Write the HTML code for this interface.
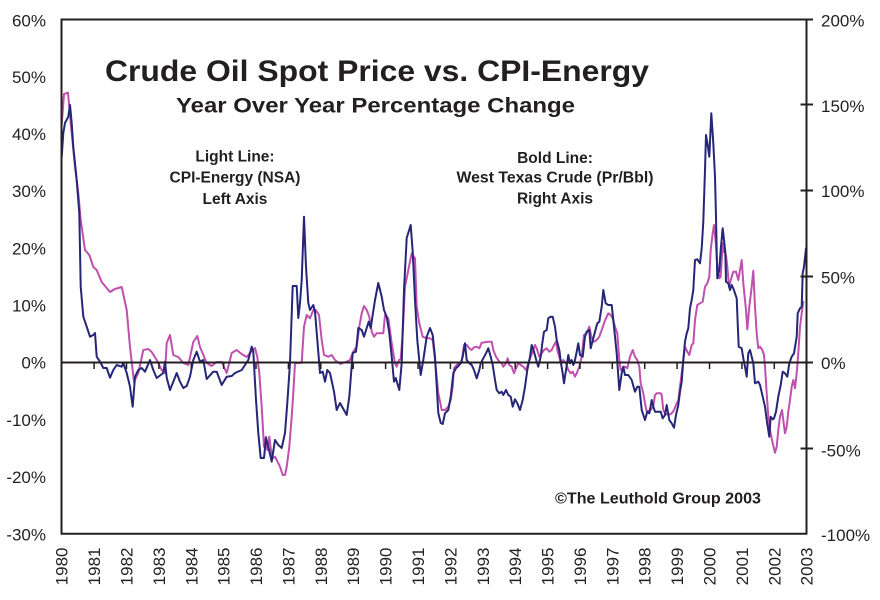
<!DOCTYPE html>
<html>
<head>
<meta charset="utf-8">
<style>
  html,body{margin:0;padding:0;background:#fff;}
  svg{display:block;}
  text{font-family:"Liberation Sans",Arial,sans-serif;fill:#231f20;}
</style>
</head>
<body>
<svg width="880" height="600" viewBox="0 0 880 600" xmlns="http://www.w3.org/2000/svg">
  <rect width="880" height="600" fill="#fff"/>

  <!-- Titles -->
  <text x="105" y="81" font-size="30" font-weight="bold" textLength="544" lengthAdjust="spacingAndGlyphs">Crude Oil Spot Price vs. CPI-Energy</text>
  <text x="176" y="112.5" font-size="21.5" font-weight="bold" textLength="399" lengthAdjust="spacingAndGlyphs">Year Over Year Percentage Change</text>

  <!-- Annotations -->
  <g font-size="15.5" font-weight="bold" text-anchor="middle">
    <text x="235" y="161.5">Light Line:</text>
    <text x="235" y="182.5">CPI-Energy (NSA)</text>
    <text x="235" y="204">Left Axis</text>
    <text x="555" y="163">Bold Line:</text>
    <text x="555" y="182.5" textLength="197" lengthAdjust="spacingAndGlyphs">West Texas Crude (Pr/Bbl)</text>
    <text x="555" y="203.5">Right Axis</text>
  </g>
  <text x="555" y="503.5" font-size="15.5" font-weight="bold" textLength="206" lengthAdjust="spacingAndGlyphs">©The Leuthold Group 2003</text>

  <!-- Series -->
  <g fill="none" stroke-linejoin="round" stroke-linecap="round">
    <polyline stroke="#c050ae" stroke-width="2" points="61.7,125 64,94 68,92.7 70.7,123 75,167 78.3,193 80.7,220 85,250 89.3,255 93.3,267 96.7,270 101.7,282 110,292 115,289 121.7,287 126.7,310 130,347 134,382 138.3,373 143.3,350 148.3,349 151.7,352 156.7,360 161.7,370 165,373 166.7,343 170,335 173.3,355 178.3,357 183.3,363 188.3,365 193.3,342 197.3,336 200,347 206.7,363 211.7,366 216.7,362 221.7,362 226.7,373 231.7,353 236.7,350 241.7,354 246.7,357 251.7,351 255,348 257.3,356.7 259.3,373 261.7,406.7 264,446.7 266,436.7 267.3,450 269.3,436.7 270.7,448.3 272.7,458.3 275,456.7 276.7,460 280,466.7 282.7,475 285,475 286.7,466.7 289.3,446.7 291.7,416.7 293.3,393 295,363.3 301.7,362.7 304,326.7 306.7,315 310,318.3 313.3,310 315.7,310 319,315 321.7,340 324,355 328.3,356.7 331.7,355 335,360 338.3,362.7 340.7,364 343.3,362.7 346.7,361.7 350,360 353.3,351.7 356.7,346.7 359.3,326.7 361.7,313.3 364,306 366.7,310 369.3,316.7 371.7,331.7 374,336.7 376.7,333.3 383.3,333.3 385,315 388.3,318.3 391.7,343.3 395,363.3 396.7,366.7 399,360 400.7,359.3 402.7,333.3 405,286.7 409.3,265 411.7,253.3 415,258.3 416.7,306.7 419.3,323.3 422.7,336.7 426.7,338.3 430,338.3 432.7,340 435,360 438.3,393.3 441.7,410 445,410 448.3,406.7 450.7,400 452.7,386.7 454,368.3 456.7,365 459.3,363.3 461.7,361.7 464,345 466.7,345 469.3,348.3 471.7,350 474,347.3 476.7,346.7 479.3,348.3 481.7,342.7 488.3,341.7 491.7,341.7 493.3,350 496,356.7 499.3,361.7 501.7,363.3 503.3,366.7 506,363.3 507.7,358.3 509.3,365 511.7,366.7 514,373.3 516,368.3 518.3,363.3 523.3,366.7 526,370 528.3,363.3 530.7,356.7 533.3,350 535,345 536.7,348.3 539.3,356.7 541.7,353.3 544,350 546.7,348.3 549.3,351.7 551.7,350 554,345 556,341.7 557.3,350 559.3,356.7 560.7,363.3 563.3,360 566,363.3 568.3,370 570.7,373.3 572.7,371.7 575,376.7 576.7,373.3 579.3,366.7 581.7,356.7 584,335 586.7,333.3 589.3,326.7 591.7,338.3 594,341.7 596.7,340 599.3,336.7 601.7,330 604,323.3 606,318.3 608.3,313.3 610.7,315 612.7,318.3 615,326.7 617.3,333.3 619.3,360 620.7,370 622.7,368.3 625,366.7 627.3,368.3 630,356.7 632.7,350 635,356.7 637.3,360 639.3,366.7 640.7,383.3 643.3,393.3 645,403.3 646.7,411.7 650.7,410 653.3,406 655,395 656.7,393.3 660.7,393.3 661.7,395 663.3,410 665,413.3 668.3,415 671.7,413.3 674,410 676,405 678.3,400 680,386.7 681.7,373.3 683.3,360 685,346.7 687.3,351.7 689.3,355 691.7,345 693.3,343.3 695,320 697.3,305 700,303.3 702.7,301.7 705,286.7 707.3,283.3 709.3,276.7 710.7,250 712.7,233.3 714,225 716,245 717.3,266.7 719.3,278.3 720.7,276.7 722.7,243.3 724,251.7 726,255 727.3,266.7 729,286.7 731.7,276.7 733.3,271.7 736,271.7 738.3,280 740,270 741.7,260 743.3,283.3 746,310 747.3,329.3 749.3,306.7 751.7,286.7 753.3,270.7 755,306.7 756.7,333.3 758.3,348.3 760,346.7 762.3,350 764,355 765,366.7 766.7,393.3 768.3,416.7 770,430 772.7,443.3 775,452.7 776.7,446.7 778.3,430 780,416.7 782,410 783.3,420 785,433.3 786.7,426.7 788.3,411.7 790,400 791.7,386.7 793.3,380 795,388.3 796.7,373.3 798.3,353.3 800,326.7 801.7,313.3 803.3,301.7"/>
    <polyline stroke="#262678" stroke-width="2" points="61.7,156.7 63.3,133 65,123 68.3,116.7 70,105 71.7,123 73.3,146.7 76.7,180 79.3,213 80.7,286.7 83.3,316.7 86.7,326.7 90,336.7 93.3,335 95,333 96.7,356.7 100,361.7 103.3,368 106.7,368 110,377.7 113.3,370 116.7,365 121.7,366.7 123.3,363 126.7,373 130,386.7 132.7,406.7 135,376.7 138.3,370 141.7,368 145,371.7 150,360 153.3,370 156.7,378 163.3,373 165,361.7 166.7,377.7 170,390 173.3,381.7 176.7,373 180,381.7 183.3,388 186.7,386 190,376.7 193.3,360 196.7,351.7 200,361.7 203.3,360 206.7,379 213.3,371.7 216.7,371.7 221.7,385 226.7,376.7 231.7,376 235,373 241.7,370 248.3,360 251.7,346.7 253.3,351.7 256,400 258.3,433 260.7,458 264,458 266,438 268.3,446.7 271.7,461.7 275,440 278.3,445 281.7,448 285,433 287.3,403 290,363 292.7,286 296.7,286 298.3,318 300,303 301.7,280 304,216.7 306,266.7 308.3,303 310,310 313.3,305 315,311.7 320,373 322.7,371.7 325,381.7 327.3,370 330,373 334,391.7 336.7,410 340,403 346.7,415 349.3,396.7 352.7,353 356,351.7 358.3,328 361.7,330 364,336.7 366.7,328 368.7,321.7 370.7,328 375,300 378.3,283 381.7,296.7 384,310 386.7,316.7 389.3,333 391.7,356.7 394,381.7 395.7,378 399.3,390 401.7,363 404,290 406.7,238 410.7,225 412.7,251.7 415,300 417.3,340 420.7,375 423.3,360 426.7,336.7 430,328 432.7,335 435,356.7 438.3,413 440.7,423 442.7,424 445,413.3 448.3,410 450.7,396.7 453.3,373.3 456,368.3 458.3,366 460.7,363.3 462.7,356.7 465,343.3 466.7,360 469.3,363.3 471.7,365 474,370 476.7,378.3 479.3,370 480.7,363.3 483.3,358.3 486,353.3 488.3,348.3 490.7,356.7 492.7,365 495,380 496.7,390 499.3,393.3 501.7,391.7 503.3,395 506,390 508.3,395 510.7,396.7 512.7,406.7 515,399.3 517.3,403.3 520,410 522.7,400 525,386.7 527.3,370 530,356.7 531.7,345 534,351.7 536.7,361.7 538.3,366.7 540.7,356.7 542.3,343.3 544,331.7 546.7,330 548.3,318.3 550.7,316.7 552.7,316.7 555,326.7 556.7,340 559.3,350 561,363.3 562.7,373.3 564,383.3 566,370 568.3,355 570,363.3 571.7,360 573.3,365 575,360 576.7,351.7 578.3,343.3 580,355 582.7,356.7 585,336.7 586.7,331.7 589.3,330 590.7,348.3 593.3,338.3 595,331.7 597.3,323.3 599.3,321.7 601.7,306.7 603.3,290 605.7,303.3 608.3,305 611.7,305 614,326.7 616.7,353.3 619.3,390 621.7,373.3 623.3,366.7 625,375 628.3,375 631.7,380 634,388.3 635,391.7 637.3,386.7 639.3,386.7 641.7,410 645,420 647.3,411.7 649.3,413.3 651.7,400 653.3,406.7 655,411.7 660.7,411.7 662.7,418.3 665,415 666.7,405 669.3,420 671.7,423.3 674,427.7 676,415 678.3,405 680,391.7 681.7,381.7 683.3,360 685,341.7 686.7,333.3 688.3,328.3 690,308.3 691.7,300 693.3,290 695,260 697.3,259.3 700,263.3 701.7,248.3 703.3,221.7 705,170 706,135 707.7,145 709.3,156.7 711.3,113.3 713.3,143.3 715,176.7 716,216.7 716.7,253.3 717.3,278.3 719.3,270 720.7,250 722.7,228.3 724,240 725.3,251.7 726,281.7 728.3,283.3 730,290 731.7,285 733.3,288.3 735,293.3 736.7,298.3 737.7,323.3 738.7,346.7 741.7,348.3 743.3,358.3 745,366.7 746.7,376.7 748.3,353.3 750,350 751.7,356.7 753.3,363.3 755,383.3 758.3,381.7 760,385 762.7,396.7 765,406.7 766.7,420 769.3,436.7 770.7,416.7 772.7,419.3 774,418.3 776,411.7 778.3,396.7 780.7,385 782.7,371.7 785,373.3 787.3,376.7 789.3,363.3 791.7,356.7 794,353.3 796.7,336.7 797.7,313.3 800,308.3 801.7,306.7 802.7,273.3 804,266.7 806,248.3"/>
  </g>

  <!-- Axes -->
  <g stroke="#231f20" fill="none">
    <line x1="61" y1="19.5" x2="813" y2="19.5" stroke-width="2"/>
    <line x1="61.5" y1="18.5" x2="61.5" y2="534.5" stroke-width="2"/>
    <line x1="806.5" y1="18.5" x2="806.5" y2="534.5" stroke-width="2"/>
    <line x1="61" y1="533.7" x2="807" y2="533.7" stroke-width="2"/>
    <line x1="61" y1="362.5" x2="813" y2="362.5" stroke-width="2"/>
    <!-- right ticks -->
    <line x1="800.5" y1="104.5" x2="813" y2="104.5" stroke-width="2"/>
    <line x1="800.5" y1="190.5" x2="813" y2="190.5" stroke-width="2"/>
    <line x1="800.5" y1="276.5" x2="813" y2="276.5" stroke-width="2"/>
    <line x1="800.5" y1="448.5" x2="813" y2="448.5" stroke-width="2"/>
    <!-- year ticks on zero line -->
    <g stroke-width="1.5">
      <line x1="94.1" y1="362" x2="94.1" y2="369"/>
      <line x1="126.5" y1="362" x2="126.5" y2="369"/>
      <line x1="158.9" y1="362" x2="158.9" y2="369"/>
      <line x1="191.3" y1="362" x2="191.3" y2="369"/>
      <line x1="223.7" y1="362" x2="223.7" y2="369"/>
      <line x1="256.0" y1="362" x2="256.0" y2="369"/>
      <line x1="288.4" y1="362" x2="288.4" y2="369"/>
      <line x1="320.8" y1="362" x2="320.8" y2="369"/>
      <line x1="353.2" y1="362" x2="353.2" y2="369"/>
      <line x1="385.6" y1="362" x2="385.6" y2="369"/>
      <line x1="418.0" y1="362" x2="418.0" y2="369"/>
      <line x1="450.4" y1="362" x2="450.4" y2="369"/>
      <line x1="482.8" y1="362" x2="482.8" y2="369"/>
      <line x1="515.2" y1="362" x2="515.2" y2="369"/>
      <line x1="547.6" y1="362" x2="547.6" y2="369"/>
      <line x1="580.0" y1="362" x2="580.0" y2="369"/>
      <line x1="612.3" y1="362" x2="612.3" y2="369"/>
      <line x1="644.7" y1="362" x2="644.7" y2="369"/>
      <line x1="677.1" y1="362" x2="677.1" y2="369"/>
      <line x1="709.5" y1="362" x2="709.5" y2="369"/>
      <line x1="741.9" y1="362" x2="741.9" y2="369"/>
      <line x1="774.3" y1="362" x2="774.3" y2="369"/>
    </g>
  </g>

  <!-- Left axis labels -->
  <g font-size="17" text-anchor="end">
    <text x="46" y="26.5">60%</text>
    <text x="46" y="83">50%</text>
    <text x="46" y="140">40%</text>
    <text x="46" y="197">30%</text>
    <text x="46" y="254.5">20%</text>
    <text x="46" y="311.5">10%</text>
    <text x="46" y="368.5">0%</text>
    <text x="46" y="426">-10%</text>
    <text x="46" y="483">-20%</text>
    <text x="46" y="540.5">-30%</text>
  </g>

  <!-- Right axis labels -->
  <g font-size="17">
    <text x="821" y="26.5">200%</text>
    <text x="821" y="112">150%</text>
    <text x="821" y="197">100%</text>
    <text x="821" y="283.5">50%</text>
    <text x="821" y="369">0%</text>
    <text x="821" y="456.5">-50%</text>
    <text x="821" y="541">-100%</text>
  </g>

  <!-- Year labels -->
  <g font-size="17" text-anchor="end">
    <text transform="translate(67.7,547.5) rotate(-90)">1980</text>
    <text transform="translate(100.1,547.5) rotate(-90)">1981</text>
    <text transform="translate(132.5,547.5) rotate(-90)">1982</text>
    <text transform="translate(164.9,547.5) rotate(-90)">1983</text>
    <text transform="translate(197.3,547.5) rotate(-90)">1984</text>
    <text transform="translate(229.7,547.5) rotate(-90)">1985</text>
    <text transform="translate(262.0,547.5) rotate(-90)">1986</text>
    <text transform="translate(294.4,547.5) rotate(-90)">1987</text>
    <text transform="translate(326.8,547.5) rotate(-90)">1988</text>
    <text transform="translate(359.2,547.5) rotate(-90)">1989</text>
    <text transform="translate(391.6,547.5) rotate(-90)">1990</text>
    <text transform="translate(424.0,547.5) rotate(-90)">1991</text>
    <text transform="translate(456.4,547.5) rotate(-90)">1992</text>
    <text transform="translate(488.8,547.5) rotate(-90)">1993</text>
    <text transform="translate(521.2,547.5) rotate(-90)">1994</text>
    <text transform="translate(553.6,547.5) rotate(-90)">1995</text>
    <text transform="translate(586.0,547.5) rotate(-90)">1996</text>
    <text transform="translate(618.3,547.5) rotate(-90)">1997</text>
    <text transform="translate(650.7,547.5) rotate(-90)">1998</text>
    <text transform="translate(683.1,547.5) rotate(-90)">1999</text>
    <text transform="translate(715.5,547.5) rotate(-90)">2000</text>
    <text transform="translate(747.9,547.5) rotate(-90)">2001</text>
    <text transform="translate(780.3,547.5) rotate(-90)">2002</text>
    <text transform="translate(812.7,547.5) rotate(-90)">2003</text>
  </g>
</svg>
</body>
</html>
